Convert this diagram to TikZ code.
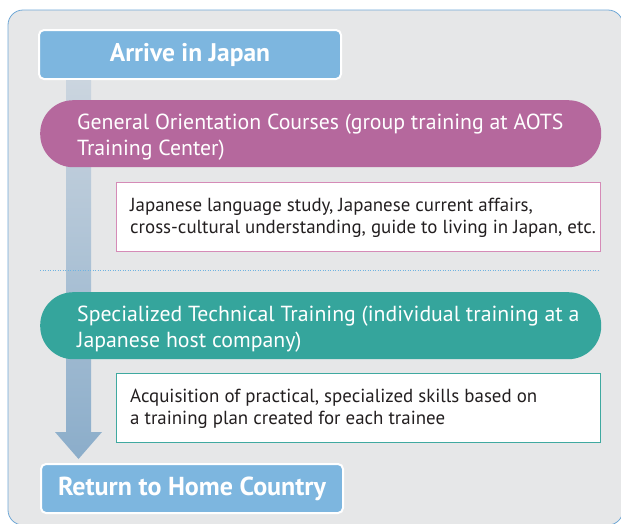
\documentclass[tikz,border=0pt]{standalone}
\usepackage{fontspec}
\setmainfont{PT Sans}
\definecolor{panelfill}{HTML}{E6E7E8}
\definecolor{panelborder}{HTML}{6FA8D6}
\definecolor{termblue}{HTML}{7DB6DF}
\definecolor{purplepill}{HTML}{B5689D}
\definecolor{tealpill}{HTML}{35A59C}
\definecolor{pinkline}{HTML}{D58BB7}
\definecolor{tealline}{HTML}{3FA9A0}
\definecolor{textdark}{HTML}{231F20}
\definecolor{dotblue}{HTML}{6FB3E0}
\definecolor{arrowtop}{HTML}{CBD5DF}
\definecolor{arrowbot}{HTML}{8BADCA}
\begin{document}
\begin{tikzpicture}[x=1pt,y=-1pt,
  panel/.style={draw=panelborder, fill=panelfill, line width=0.8pt, rounded corners=15pt},
  termbox/.style={draw=white, line width=2pt, fill=termblue, rounded corners=5pt,
    text=white, inner sep=0pt, minimum width=302pt, minimum height=49pt, anchor=north west},
  pill/.style={fill=#1, rounded corners=33pt, inner sep=0pt, minimum height=67pt,
    minimum width=561pt, anchor=north west},
  pilltext/.style={text=white, font=\fontsize{21.8}{26}\selectfont, align=left, inner sep=0pt, anchor=west},
  detail/.style={draw=#1, fill=white, line width=0.8pt, inner sep=0pt, minimum width=484pt,
    minimum height=69pt, anchor=north west},
  detailtext/.style={text=textdark, font=\fontsize{18.9}{22}\selectfont, align=left, inner sep=0pt, anchor=west},
  sep/.style={draw=dotblue, line width=0.6pt, dash pattern=on 1pt off 1.5pt},
]
\useasboundingbox (0,0) rectangle (621,523);
\draw[panel] (8,10) rectangle (623,525);

\node[termbox, font=\bfseries\fontsize{25.5}{29}\selectfont] (arrive) at (38,29) {Arrive in Japan};
\node[termbox, font=\bfseries\fontsize{26}{30}\selectfont] (return) at (40,463) {Return to Home Country};

% fat arrow behind the stages
\coordinate (a1) at ([xshift=28pt]arrive.south west);
\coordinate (a2) at ([xshift=53pt]arrive.south west);
\coordinate (h1) at ([xshift=26pt,yshift=31pt]return.north west);
\coordinate (h2) at ([xshift=51pt,yshift=31pt]return.north west);
\coordinate (h0) at ([xshift=15pt,yshift=31pt]return.north west);
\coordinate (h3) at ([xshift=62pt,yshift=31pt]return.north west);
\coordinate (tip) at ([xshift=38.5pt,yshift=4pt]return.north west);
\shade[top color=arrowtop, bottom color=arrowbot]
  (a1) -- (a2) -- (h2) -- (h3) -- (tip) -- (h0) -- (h1) -- cycle;

% stage 1
\node[pill=purplepill] (gen) at (40,100) {};
\node[pilltext] (gentext) at ([xshift=37pt,yshift=-3pt]gen.west)
  {General Orientation Courses (group training at AOTS\\Training Center)};
\node[detail=pinkline] (gendet) at (116,182) {};
\node[detailtext] (gendettext) at ([xshift=14pt,yshift=-1pt]gendet.west)
  {Japanese language study, Japanese current affairs,\\cross-cultural understanding, guide to living in Japan, etc.};

\coordinate (s1) at (40,270);
\coordinate (s2) at (600,270);
\draw[sep] (s1) -- (s2);

% stage 2
\node[pill=tealpill] (spec) at (40,292) {};
\node[pilltext] (spectext) at ([xshift=37pt,yshift=-3pt]spec.west)
  {Specialized Technical Training (individual training at a\\Japanese host company)};
\node[detail=tealline] (specdet) at (116,373) {};
\node[detailtext] (specdettext) at ([xshift=14pt,yshift=-1pt]specdet.west)
  {Acquisition of practical, specialized skills based on\\a training plan created for each trainee};
\end{tikzpicture}
\end{document}
